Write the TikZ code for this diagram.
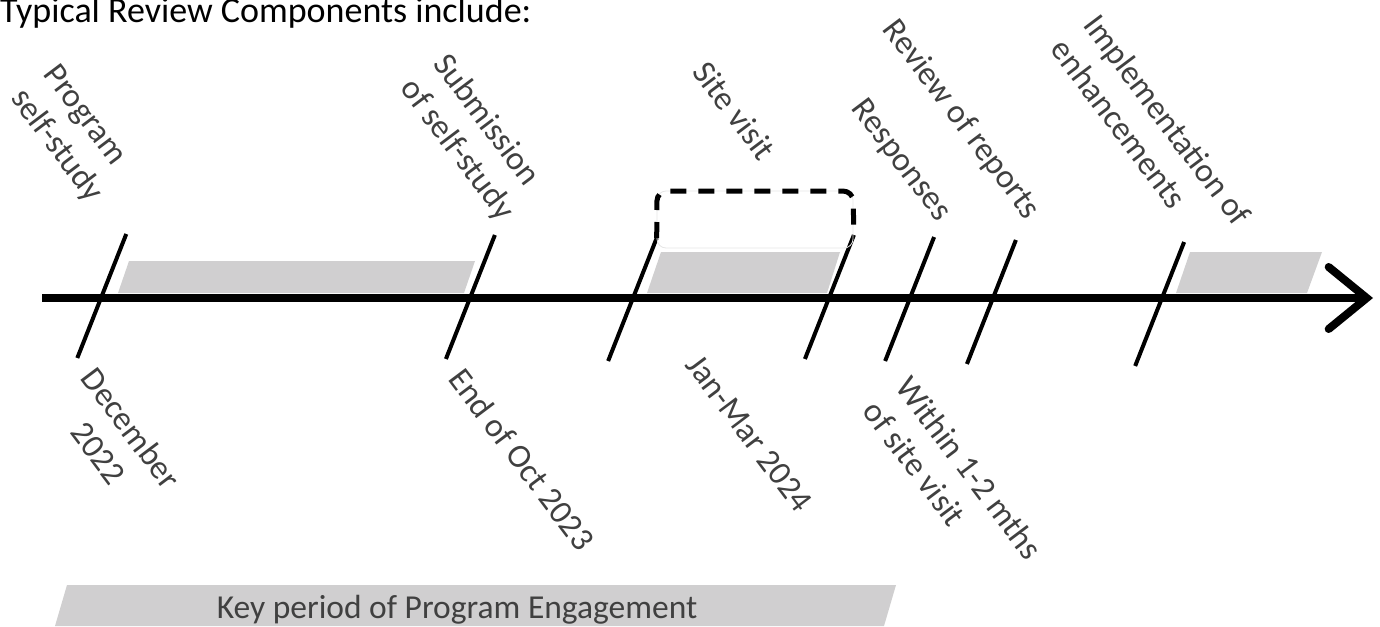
\documentclass[tikz,border=0pt]{standalone}
\usepackage{fontspec}
\setmainfont{Carlito}
\usepackage{xcolor}
\usetikzlibrary{arrows.meta}
\definecolor{bargray}{RGB}{208,207,208}
\definecolor{txtgray}{RGB}{64,64,64}

\begin{document}
\begin{tikzpicture}[x=1pt,y=-1pt,
	every node/.style={inner sep=0pt,text=txtgray,font=\fontsize{33.5}{41}\selectfont},
	lbl/.style={rotate=-53,align=left,anchor=north west},
	tick/.style={line width=4pt},
	period/.style={fill=bargray}]
	\useasboundingbox (0,0) rectangle (1380,626);
	
	\node[anchor=base west,text=black,font=\fontsize{36}{41}\selectfont] (title) at (0,23) {Typical Review Components include:};
	
	\fill[period] (118,293) -- (129,261) -- (475,261) -- (464,293) -- cycle;
	\fill[period] (647,293) -- (661,252) -- (840,252) -- (827,293) -- cycle;
	\fill[period] (1176,293) -- (1190,252) -- (1322,252) -- (1307,293) -- cycle;
	
	\coordinate (start) at (42,298);
	\coordinate (end) at (1373,298);
	\draw[line width=8pt,-{Straight Barb[length=38pt,width=62pt,line cap=round]}] (start) -- (end);
	
	\foreach \n/\x/\t/\b in {1/101/234/358,2/470/235/359,3/633/238/361,4/829/235/359,5/910/237/361,6/993/240/364,7/1162/242/366}{
		\coordinate (a\n) at ({\x+0.395*(298-\t)},\t);
		\coordinate (b\n) at ({\x-0.395*(\b-298)},\b);
		\draw[tick] (b\n) -- (a\n);
	}
	
	\draw[gray!20,line width=0.8pt,rounded corners=9pt] (657,191) rectangle (853,248);
	\draw[line width=5pt,dash pattern=on 16pt off 12pt,rounded corners=10pt] (a3) -- (657,191) -- (853,191) -- (a4);
	
	\node[lbl] (l1) at (60,61) {Program\\self-study};
	\node[lbl] (l2) at (451,50) {Submission\\of self-study};
	\node[lbl] (l3) at (710,58) {Site visit};
	\node[lbl] (l4) at (868,95) {Responses};
	\node[lbl] (l5) at (900,15) {Review of reports};
	\node[lbl] (l6) at (1101,11) {Implementation of\\enhancements};
	
	\node[lbl,align=center,anchor=north] (l7) at (141,421) {December\\2022};
	\node[lbl] (l8) at (466,365) {End of Oct 2023};
	\node[lbl] (l9) at (702,352) {Jan-Mar 2024};
	\node[lbl] (l10) at (913,373) {Within 1-2 mths\\of site visit};
	
	\fill[period] (55,626) -- (67,585) -- (896,585) -- (884,626) -- cycle;
	\node[anchor=base] (key) at (457,618) {Key period of Program Engagement};
	
\end{tikzpicture}
\end{document}
